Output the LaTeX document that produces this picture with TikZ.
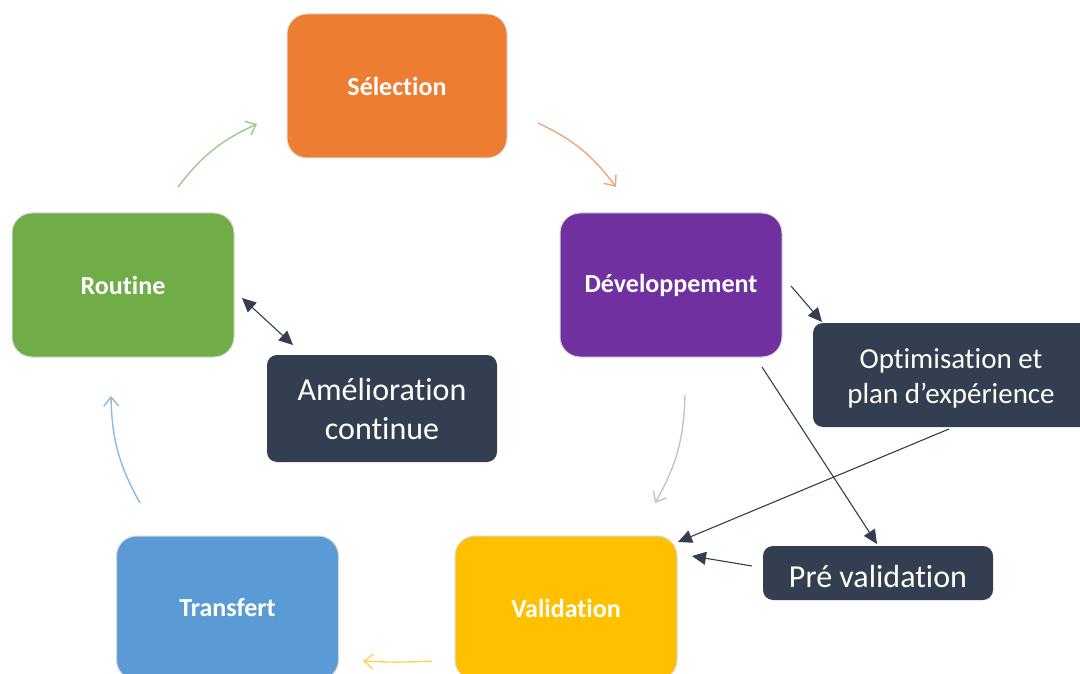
\documentclass[tikz,border=0pt]{standalone}
\usepackage{fontspec}
\setmainfont[Ligatures=NoCommon]{Carlito}
\usetikzlibrary{arrows.meta}
\definecolor{cOrange}{HTML}{ED7D31}
\definecolor{cPurple}{HTML}{7030A0}
\definecolor{cGreen}{HTML}{70AD47}
\definecolor{cBlue}{HTML}{5B9BD5}
\definecolor{cYellow}{HTML}{FFC000}
\definecolor{cDark}{HTML}{333F50}
\definecolor{aGreen}{HTML}{9CCB86}
\definecolor{aOrange}{HTML}{F2A675}
\definecolor{aBlue}{HTML}{8DB9E2}
\definecolor{aYellow}{HTML}{FFD35A}
\definecolor{aGrey}{HTML}{C4C4C4}
\newcommand{\twolines}[3]{\raisebox{#1}[0pt][0pt]{\begin{tabular}[t]{@{}c@{}}#2\\#3\end{tabular}}}
\tikzset{
  mainbox/.style={draw=black!15, line width=1pt, rounded corners=20pt, minimum width=222pt, minimum height=144pt, text=white, font=\bfseries\fontsize{26}{31}\selectfont, inner sep=0pt},
  darkbox/.style={fill=cDark, draw=none, rounded corners=10pt, text=white, align=center, inner sep=0pt},
  cyc/.style={line width=1.4pt, -{Straight Barb[length=9pt,width=15pt]}, bend left=14},
  darr/.style={draw=cDark, line width=1.1pt, -{Triangle[length=14pt,width=13pt]}},
}
\begin{document}
\begin{tikzpicture}[x=1pt,y=-1pt]
\clip (0,0) rectangle (1080,674);
\fill[white] (0,0) rectangle (1080,674);
% main boxes
\node[mainbox, fill=cOrange, minimum width=220pt] (sel) at (397,86) {Sélection};
\node[mainbox, fill=cPurple] (dev) at (671,285) {Développement};
\node[mainbox, fill=cGreen] (rou) at (123,285) {Routine};
\node[mainbox, fill=cBlue] (tra) at (227.5,608) {Transfert};
\node[mainbox, fill=cYellow] (val) at (566,608) {Validation};
% dark boxes
\node[darkbox, minimum width=230pt, minimum height=107pt, font=\fontsize{32}{39}\selectfont] (ame) at (382,408.5) {\twolines{8.5pt}{Amélioration}{continue}};
\node[darkbox, minimum width=276pt, minimum height=104pt, font=\fontsize{29}{35}\selectfont] (opt) at (951,375) {\twolines{7pt}{Optimisation et}{plan d’expérience}};
\node[darkbox, minimum width=230pt, minimum height=54pt, font=\fontsize{32}{38}\selectfont] (pre) at (878,573) {\raisebox{-14pt}[0pt][0pt]{Pré validation}};
% cycle arrow end points
\coordinate (g1) at (178,187); \coordinate (g2) at (257,124);
\coordinate (o1) at (538,123); \coordinate (o2) at (616,187);
\coordinate (r1) at (685,395); \coordinate (r2) at (655,503);
\coordinate (y1) at (432,661); \coordinate (y2) at (363,661);
\coordinate (b1) at (140,503); \coordinate (b2) at (111,396);
\draw[cyc, draw=aGreen] (g1) to (g2);
\draw[cyc, draw=aOrange] (o1) to (o2);
\draw[cyc, draw=aGrey] (r1) to (r2);
\draw[cyc, draw=aYellow, bend left=3] (y1) to (y2);
\draw[cyc, draw=aBlue] (b1) to (b2);
% dark connectors
\coordinate (ra1) at (242,298); \coordinate (ra2) at (293,345);
\draw[darr, {Triangle[length=14pt,width=13pt]}-{Triangle[length=14pt,width=13pt]}] (ra1) -- (ra2);
\coordinate (do1) at (791,286); \coordinate (do2) at (822,322);
\draw[darr] (do1) -- (do2);
\coordinate (ov1) at (949,429); \coordinate (ov2) at (678,542);
\draw[darr] (ov1) -- (ov2);
\coordinate (dp1) at (762,367); \coordinate (dp2) at (877,544);
\draw[darr] (dp1) -- (dp2);
\coordinate (pv1) at (752,566); \coordinate (pv2) at (692,556);
\draw[darr] (pv1) -- (pv2);
\end{tikzpicture}
\end{document}
